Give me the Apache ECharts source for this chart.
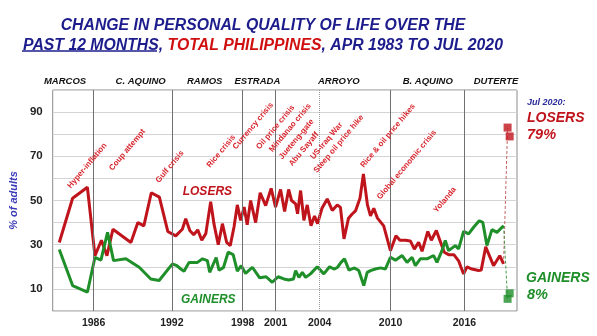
<!DOCTYPE html>
<html>
<head>
<meta charset="utf-8">
<script src="https://cdn.jsdelivr.net/npm/echarts@6/dist/echarts.min.js"></script>
<style>html,body{margin:0;padding:0;background:#fff}#c{width:597px;height:336px}</style>
</head>
<body>
<div id="c"></div>
<script>
// ---- data (survey date as decimal year, % of adults) ----
const losersDates = [1983.34,1984.43,1985.64,1986.26,1986.79,1987.24,1987.73,1989.20,1989.77,1990.26,1990.87,1991.53,1992.22,1992.87,1993.41,1993.69,1994.02,1994.34,1994.67,1995.00,1995.33,1995.73,1996.00,1996.35,1996.69,1997.04,1997.33,1997.64,1997.91,1998.18,1998.47,1998.72,1999.00,1999.41,1999.78,2000.23,2000.68,2001.04,2001.45,2001.78,2002.11,2002.35,2002.68,2002.84,2003.09,2003.36,2003.63,2003.94,2004.23,2004.48,2004.84,2005.27,2005.68,2006.09,2006.35,2006.64,2007.01,2007.31,2007.58,2007.95,2008.23,2008.56,2008.81,2009.08,2009.38,2009.89,2010.44,2010.89,2011.22,2011.67,2012.07,2012.40,2012.75,2013.03,2013.50,2013.79,2014.20,2014.52,2014.85,2015.20,2015.63,2016.02,2016.20,2016.43,2016.71,2017.11,2017.65,2017.87,2018.24,2018.88,2019.39,2019.70];
const losersPct = [31,51,56,25,32,25,37,31,40,38.5,53.5,51.5,36,34,37,41.7,36.4,34.5,36.7,32,35,49.5,39.4,30,39.5,31,29.6,38,48,41,47,39,50,40,53.5,47.7,55.5,47,55,45,55,50,48.5,44,54.5,41,48,38.6,43,39.5,46.5,50.7,45.5,48,46.9,32.6,42,43.9,45.3,51,62,48,43,46.5,42,38.5,27.3,34,32,32,31.7,28,31.1,27,36,32,36.4,31.5,26.6,25.5,25.5,22.7,20,16.8,20,19,18.3,18.5,29,20.5,25,21.3];
const gainersDates = [1983.34,1984.43,1985.64,1986.26,1986.75,1987.29,1987.78,1988.79,1989.88,1990.83,1991.51,1992.60,1992.96,1993.28,1993.55,1993.96,1994.65,1995.06,1995.46,1995.65,1996.18,1996.41,1996.77,1997.16,1997.57,1997.91,1998.23,1998.59,1999.14,1999.74,2000.27,2000.77,2001.25,2001.72,2002.11,2002.51,2002.68,2002.95,2003.23,2003.50,2003.90,2004.45,2004.99,2005.46,2005.86,2006.11,2006.40,2006.68,2007.05,2007.50,2007.85,2008.26,2008.54,2008.81,2009.21,2009.62,2010.03,2010.44,2010.85,2011.40,2011.80,2012.21,2012.48,2012.89,2013.44,2013.98,2014.25,2014.66,2014.93,2015.20,2015.75,2016.02,2016.43,2016.84,2017.25,2017.71,2018.00,2018.34,2018.75,2019.16,2019.70];
const gainersPct = [27.8,11.5,8.5,24.3,23,35.6,22.8,23.6,19.8,14.5,13.8,21.3,20.5,19,18,22,22,23.6,22.8,17.5,24.2,18.5,19.6,26.6,25.5,18,20.5,17,19.8,15,15.5,13,15.5,14.5,14,14.5,18.3,15.2,17.5,15.2,16.8,20,16.8,20,19,19.8,22,23.6,18.5,19.5,18.3,11.5,17.5,18.3,19,19.5,19,24.3,23,25.1,22,24.3,20.5,23.6,23.6,25.1,22,27.3,31.9,27.3,29.6,28.1,36,34.9,37.9,40.8,40.1,29.6,36.8,35.6,38.6];
const pandemicDates = [2020.03, 2020.20];
const pandemicLosers = [83, 79];
const pandemicGainers = [5.5, 8];

const termStarts = [1986.15, 1992.55, 1998.35, 2001.05, 2004.65, 2010.45, 2016.5];
const yearLabels = ['1986','1992','1998','2001','2004','2010','2016'];
const presidentNames = ['MARCOS','C. AQUINO','RAMOS','ESTRADA','ARROYO','B. AQUINO','DUTERTE'];
const presidentLabelAt = [1983.81, 1990.0, 1995.24, 1999.55, 2006.22, 2013.5, 2019.08];
const yTickLabels = [10, 30, 50, 70, 90];

const eventNotes = ['Hyper-inflation','Coup attempt','Gulf crisis','Rice crisis','Currency crisis','Oil price crisis','Mindanao crisis','Jueteng-gate','Abu Sayaff','US-Iraq War','Steep oil price hike','Rice & oil price hikes','Global economic crisis','Yolanda'];
const eventYears = [1984.15,1987.55,1991.36,1995.53,1997.67,1999.59,2000.65,2001.44,2002.26,2004.02,2004.30,2008.11,2009.47,2014.10];
const eventLevels = [56,64,58.5,65.3,73.6,73.6,72.4,69.1,66,69.1,63,65.3,51,45];

// ---- build ----
const FONT = "'Liberation Sans', Arial, sans-serif";
const RED = '#c0141c', GREEN = '#1f8f2a', NAVY = '#1c1c8c', NOTE = '#d8262e';
const zip = (a, b) => a.map((v, i) => [v, b[i]]);
const TS = 15.8;

const notePoints = eventNotes.map((t, i) => ({
  coord: [eventYears[i], eventLevels[i]], symbolSize: 0,
  label: { show: true, formatter: t, position: 'inside', align: 'left', verticalAlign: 'middle',
    rotate: 50, color: NOTE, fontSize: 8, fontWeight: 'bold', fontFamily: FONT }
}));

const chart = echarts.init(document.getElementById('c'), null, { renderer: 'canvas' });
chart.setOption({
  animation: false,
  title: {
    text: 'CHANGE IN PERSONAL QUALITY OF LIFE OVER THE\n{u|PAST 12 MONTHS}{n|, }{r|TOTAL PHILIPPINES}{n|, APR 1983 TO JUL 2020}',
    left: 258, top: 11, textAlign: 'center',
    textStyle: { fontSize: TS, fontWeight: 'bold', fontStyle: 'italic', color: NAVY, fontFamily: FONT, lineHeight: 20,
      rich: {
        u: { fontSize: TS, fontWeight: 'bold', fontStyle: 'italic', color: NAVY, fontFamily: FONT, lineHeight: 20 },
        n: { fontSize: TS, fontWeight: 'bold', fontStyle: 'italic', color: NAVY, fontFamily: FONT, lineHeight: 20 },
        r: { fontSize: TS, fontWeight: 'bold', fontStyle: 'italic', color: '#d01010', fontFamily: FONT, lineHeight: 20 }
      } }
  },
  grid: { left: 52, right: 80, top: 90, bottom: 25, show: true, borderColor: '#8a8a8a', borderWidth: 1 },
  xAxis: [{
    type: 'value', min: 1982.8, max: 2020.8, position: 'bottom',
    axisLine: { show: false }, axisTick: { show: false }, splitLine: { show: false },
    axisLabel: { customValues: termStarts, margin: 7, color: '#222', fontSize: 10.5, fontWeight: 'bold', fontFamily: FONT,
      formatter: v => yearLabels[termStarts.indexOf(v)] || '' }
  }, {
    type: 'value', min: 1982.8, max: 2020.8, position: 'top',
    axisLine: { show: false }, axisTick: { show: false }, splitLine: { show: false },
    axisLabel: { customValues: presidentLabelAt, margin: 4, color: '#111', fontSize: 9.5, fontWeight: 'bold', fontStyle: 'italic', fontFamily: FONT,
      formatter: v => presidentNames[presidentLabelAt.indexOf(v)] || '' }
  }],
  yAxis: {
    type: 'value', min: 0, max: 100, interval: 10,
    name: '% of adults', nameLocation: 'middle', nameGap: 33,
    nameTextStyle: { color: '#3b3bb8', fontSize: 11, fontWeight: 'bold', fontStyle: 'italic', fontFamily: FONT },
    axisLine: { show: false }, axisTick: { show: false },
    splitLine: { lineStyle: { color: '#d4d4d4', width: 1 } },
    axisLabel: { customValues: yTickLabels, margin: 10, color: '#222', fontSize: 11.5, fontWeight: 'bold', fontFamily: FONT }
  },
  series: [
    {
      type: 'line', name: 'Losers', data: zip(losersDates, losersPct), showSymbol: false, symbol: 'none',
      lineStyle: { color: RED, width: 3 }, z: 3,
      markLine: {
        silent: true, symbol: 'none', label: { show: false },
        data: termStarts.map((t, i) => ({ xAxis: t, lineStyle: { color: i === 4 ? '#9a9a9a' : '#707070', width: 1, type: i === 4 ? 'dotted' : 'solid' } }))
      },
      markPoint: {
        silent: true,
        data: notePoints.concat([{
          coord: [1995.46, 54.1], symbolSize: 0,
          label: { show: true, formatter: 'LOSERS', position: 'inside', align: 'center', verticalAlign: 'middle',
            color: RED, fontSize: 12, fontWeight: 'bold', fontStyle: 'italic', fontFamily: FONT }
        }])
      }
    },
    {
      type: 'line', name: 'Gainers', data: zip(gainersDates, gainersPct), showSymbol: false, symbol: 'none',
      lineStyle: { color: GREEN, width: 3 }, z: 3,
      markPoint: {
        silent: true,
        data: [{
          coord: [1995.53, 5.2], symbolSize: 0,
          label: { show: true, formatter: 'GAINERS', position: 'inside', align: 'center', verticalAlign: 'middle',
            color: GREEN, fontSize: 12, fontWeight: 'bold', fontStyle: 'italic', fontFamily: FONT }
        }]
      }
    },
    {
      type: 'line', data: [[losersDates[losersDates.length - 1], losersPct[losersPct.length - 1]], [pandemicDates[0], pandemicLosers[0]]],
      showSymbol: false, symbol: 'none', lineStyle: { color: '#c46060', width: 1, type: [3, 2] }, z: 2
    },
    {
      type: 'line', data: [[gainersDates[gainersDates.length - 1], gainersPct[gainersPct.length - 1]], [pandemicDates[0], pandemicGainers[0]]],
      showSymbol: false, symbol: 'none', lineStyle: { color: '#4a9a4a', width: 1, type: [3, 2] }, z: 2
    },
    { type: 'scatter', data: zip(pandemicDates, pandemicLosers), symbol: 'rect', symbolSize: 8, itemStyle: { color: RED }, z: 4 },
    { type: 'scatter', data: zip(pandemicDates, pandemicGainers), symbol: 'rect', symbolSize: 8, itemStyle: { color: GREEN }, z: 4 }
  ],
  graphic: [
    { type: 'line', shape: { x1: 22, y1: 51, x2: 157, y2: 51 }, style: { stroke: NAVY, lineWidth: 1.3 } },
    { type: 'text', x: 527, y: 103, style: { text: 'Jul 2020:', fill: '#2a2a9a', font: "italic bold 9px 'Liberation Sans', Arial, sans-serif", verticalAlign: 'middle' } },
    { type: 'text', x: 527, y: 118, style: { text: 'LOSERS', fill: RED, font: "italic bold 14px 'Liberation Sans', Arial, sans-serif", verticalAlign: 'middle' } },
    { type: 'text', x: 527, y: 135, style: { text: '79%', fill: RED, font: "italic bold 14.5px 'Liberation Sans', Arial, sans-serif", verticalAlign: 'middle' } },
    { type: 'text', x: 526, y: 278, style: { text: 'GAINERS', fill: GREEN, font: "italic bold 14px 'Liberation Sans', Arial, sans-serif", verticalAlign: 'middle' } },
    { type: 'text', x: 527, y: 295, style: { text: '8%', fill: GREEN, font: "italic bold 14.5px 'Liberation Sans', Arial, sans-serif", verticalAlign: 'middle' } }
  ]
});
</script>
</body>
</html>
